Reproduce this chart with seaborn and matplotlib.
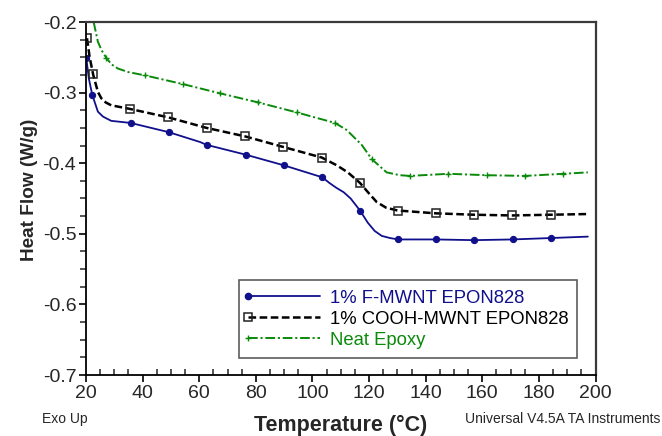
import numpy as np
import seaborn as sns
import matplotlib.pyplot as plt
from matplotlib.lines import Line2D
from matplotlib.legend_handler import HandlerLine2D
from matplotlib import font_manager

# ===== data =====
temp_f = [20.1, 21.0, 22.2, 24.2, 26.0, 28.9, 35.8, 49.2, 60.3, 62.6, 76.5, 89.9,
          103.5, 106.0, 108.5, 111.0, 113.5, 116.8, 119.5, 122.0, 124.5, 127.4,
          130.3, 143.6, 157.1, 170.7, 184.2, 197.3]
flow_f = [-0.251, -0.280, -0.303, -0.327, -0.334, -0.340, -0.343, -0.356, -0.370,
          -0.374, -0.388, -0.403, -0.420, -0.428, -0.435, -0.441, -0.450, -0.467,
          -0.484, -0.496, -0.503, -0.506, -0.508, -0.508, -0.509, -0.508, -0.506,
          -0.504]
marks_f = [20.1, 22.2, 35.8, 49.2, 62.6, 76.5, 89.9, 103.5, 116.8, 130.3, 143.6,
           157.1, 170.7, 184.2]

temp_c = [20.35, 21.3, 22.5, 24.2, 25.4, 27.0, 28.9, 35.4, 49.0, 62.6, 76.2, 89.7,
          103.3, 108.6, 112.5, 116.8, 119.8, 122.7, 126.0, 130.1, 143.5, 157.1,
          170.6, 184.2, 197.3]
flow_c = [-0.223, -0.250, -0.274, -0.299, -0.308, -0.314, -0.318, -0.323, -0.335,
          -0.350, -0.362, -0.377, -0.392, -0.403, -0.413, -0.428, -0.442, -0.455,
          -0.463, -0.467, -0.471, -0.473, -0.474, -0.473, -0.472]
marks_c = [20.35, 22.5, 35.4, 49.0, 62.6, 76.2, 89.7, 103.3, 116.8, 130.1, 143.5,
           157.1, 170.6, 184.2]

temp_n = [22.7, 24.2, 25.5, 27.2, 29.0, 31.3, 35.0, 40.7, 54.3, 67.3, 80.9, 94.4,
          108.0, 112.1, 117.4, 120.9, 126.2, 130.9, 134.4, 148.0, 161.5, 175.1,
          188.6, 197.3]
flow_n = [-0.200, -0.228, -0.240, -0.251, -0.260, -0.266, -0.271, -0.2755, -0.288,
          -0.301, -0.314, -0.328, -0.343, -0.353, -0.374, -0.394, -0.413, -0.417,
          -0.418, -0.415, -0.417, -0.418, -0.415, -0.413]
marks_n = [27.2, 40.7, 54.3, 67.3, 80.9, 94.4, 108.0, 120.9, 134.4, 148.0, 161.5,
           175.1, 188.6]

labels = ["1% F-MWNT EPON828", "1% COOH-MWNT EPON828", "Neat Epoxy"]
colors = ["#10108c", "#000000", "#0a8a0a"]


class LeftMarkerHandler(HandlerLine2D):
    """legend handle: line across, marker only at the left end"""
    def create_artists(self, legend, orig_handle, xdescent, ydescent, width, height,
                       fontsize, trans):
        arts = super().create_artists(legend, orig_handle, xdescent, ydescent,
                                      width, height, fontsize, trans)
        arts[0].set_markevery([0])
        return arts


# ===== style =====
sns.set_style("ticks")
avail = {f.name for f in font_manager.fontManager.ttflist}
narrow = "Liberation Sans Narrow" if "Liberation Sans Narrow" in avail else "Liberation Sans"
plt.rcParams["font.family"] = ["Liberation Sans", "DejaVu Sans"]
plt.rcParams["lines.scale_dashes"] = False

fig = plt.figure(figsize=(6.62, 4.36), dpi=100)
ax = fig.add_axes([86 / 662, 1 - 375 / 436, (595.5 - 86) / 662, (375 - 22) / 436])

styles = [
    dict(linestyle="-", linewidth=1.3, marker="o", markersize=4.5,
         markerfacecolor=colors[0], markeredgecolor=colors[0]),
    dict(linestyle=(0, (5.5, 2.5)), linewidth=1.8, marker="s", markersize=5.5,
         markerfacecolor="none", markeredgecolor="#222222", markeredgewidth=1.1),
    dict(linestyle=(0, (7, 2, 1.5, 2)), linewidth=1.4, marker="+", markersize=5,
         markeredgewidth=1.0, markeredgecolor=colors[2]),
]

series = [(temp_f, flow_f, marks_f), (temp_c, flow_c, marks_c), (temp_n, flow_n, marks_n)]
for (t, f, m), c, st in zip(series, colors, styles):
    mask = np.isin(t, m)
    sns.lineplot(x=t, y=f, ax=ax, color=c, markevery=list(mask), sort=False, **st)

ax.set_xlim(20, 200)
ax.set_ylim(-0.7, -0.2)
ax.set_xticks(np.arange(20, 201, 20))
ax.set_xticks(np.arange(20, 201, 5), minor=True)
ax.set_yticks(np.arange(-0.7, -0.19, 0.1))
ax.set_yticks(np.arange(-0.7, -0.19, 0.025), minor=True)
ax.set_yticklabels([f"{v:.1f}" for v in np.arange(-0.7, -0.19, 0.1)])
ax.tick_params(axis="both", which="major", labelsize=14, length=5, width=1.2,
               color="black", pad=2)
ax.tick_params(axis="x", which="major", direction="out")
ax.tick_params(axis="x", which="minor", direction="in", length=4, width=1.1)
ax.tick_params(axis="y", which="minor", direction="out", length=4, width=1.1)
for s in ["left", "bottom"]:
    ax.spines[s].set_color("black")
    ax.spines[s].set_linewidth(1.3)
for s in ["top", "right"]:
    ax.spines[s].set_color("#3a3a3a")
    ax.spines[s].set_linewidth(1.6)
ax.set_xlabel("")
ax.set_ylabel("")

# legend
handles = [Line2D([], [], color=c, **st) for c, st in zip(colors, styles)]
leg = fig.legend(handles, labels, loc="lower left", numpoints=1,
                 handler_map={Line2D: LeftMarkerHandler()},
                 bbox_to_anchor=(239 / 662, 1 - 358 / 436), bbox_transform=fig.transFigure,
                 borderaxespad=0, fontsize=13.3, handlelength=3.9, handletextpad=0.5,
                 labelspacing=0.22, borderpad=0.5, fancybox=False, frameon=True,
                 labelcolor="linecolor")
leg.get_frame().set_edgecolor("#333333")
leg.get_frame().set_linewidth(1.2)

fig.text(30 / 662, 1 - 190 / 436, "Heat Flow (W/g)", rotation=90, ha="center",
         va="center", fontsize=13.7, fontweight="bold")
fig.text(341 / 662, 1 - 425 / 436, "Temperature (°C)", ha="center", va="center",
         fontsize=15.5, fontweight="bold")
fig.text(42 / 662, 1 - 419 / 436, "Exo Up", ha="left", va="center", fontsize=10,
         family=[narrow, "DejaVu Sans"])
fig.text(660 / 662, 1 - 419 / 436, "Universal V4.5A TA Instruments", ha="right",
         va="center", fontsize=10, family=[narrow, "DejaVu Sans"])

fig.savefig("out.png", dpi=100)
